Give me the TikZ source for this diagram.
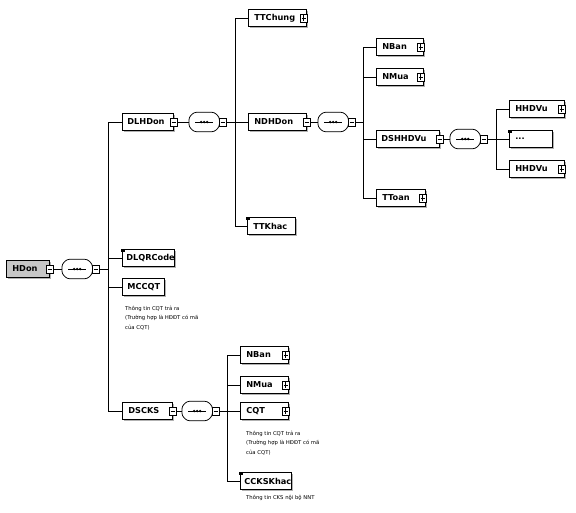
\documentclass[tikz,border=0pt]{standalone}
\usepackage{fontspec}
\setmainfont{DejaVu Sans}
\usetikzlibrary{shadows}
\tikzset{
  shd/.style={drop shadow={shadow xshift=1.2pt, shadow yshift=-1.8pt, fill=black, opacity=.3}},
  elem/.style={draw, fill=white, line width=0.75pt, minimum height=17pt, inner ysep=0pt, inner xsep=6pt,
    align=left, anchor=west, font=\fontsize{8.2}{9}\selectfont\bfseries, shd},
  root/.style={elem, fill=gray!45},
  seqbox/.style={minimum width=30pt, minimum height=19pt, inner sep=0pt, anchor=west},
  seqline/.style={draw=black, fill=white, line width=0.75pt, rounded corners=2.5pt},
  seqshadow/.style={fill=black, opacity=.3, rounded corners=2.5pt, shift={(1.2pt,-1.8pt)}},
  expm/.style={draw, fill=white, line width=0.6pt, minimum width=7pt, minimum height=8pt, inner sep=0pt,
    path picture={\draw[line width=0.7pt] ([xshift=1.3pt]path picture bounding box.west) -- ([xshift=-1.3pt]path picture bounding box.east);}},
  expp/.style={expm,
    path picture={\draw[line width=0.7pt] ([xshift=1.3pt]path picture bounding box.west) -- ([xshift=-1.3pt]path picture bounding box.east);
      \draw[line width=0.7pt] ([yshift=-1.3pt]path picture bounding box.north) -- ([yshift=1.3pt]path picture bounding box.south);}},
  wire/.style={line width=0.65pt},
  note/.style={anchor=north west, inner sep=0pt, align=left, font=\fontsize{5.3}{9.6}\selectfont},
  refmark/.style={fill=black, minimum size=3.2pt, inner sep=0pt}
}
\newcommand{\seqpath}[1]{([xshift=5pt]#1.north west) -- ([xshift=-5pt]#1.north east) -- ([yshift=-5pt]#1.north east) -- ([yshift=5pt]#1.south east) -- ([xshift=-5pt]#1.south east) -- ([xshift=5pt]#1.south west) -- ([yshift=5pt]#1.south west) -- ([yshift=-5pt]#1.north west) -- cycle}
\newcommand{\seqdraw}[1]{%
  \fill[seqshadow] \seqpath{#1};
  \path[seqline] \seqpath{#1};
  \draw[line width=1pt] ([xshift=6pt]#1.west) -- ([xshift=-6pt]#1.east);
  \foreach \d in {-3,0,3} \fill ([xshift=\d pt]#1.center) circle (1.3pt);}
\begin{document}
\begin{tikzpicture}[x=1pt,y=-1pt]
\useasboundingbox (0,0) rectangle (576,512);
% root
\node[root, text width=31pt] (hdon) at (6,269) {HDon};
\node[expm] (ehdon) at (hdon.east) {};
\node[seqbox] (s1) at (62,269) {};
\seqdraw{s1}
\node[expm, anchor=west] (x1) at ([xshift=-0.5pt]s1.east) {};
\coordinate (b1) at (108,269);
\draw[wire] (ehdon.east) -- (s1.west);
\draw[wire] (x1.east) -- (b1);
% level 1
\node[elem, text width=41pt, inner xsep=5pt] (dlhdon) at (122,122) {DLHDon};
\node[expm] (edlhdon) at (dlhdon.east) {};
\node[elem, text width=44pt, inner xsep=4pt] (dlqr) at (122,258) {DLQRCode};
\node[refmark] (mdlqr) at ([xshift=1pt,yshift=-1pt]dlqr.north west) {};
\node[elem, text width=32pt, inner xsep=5pt] (mccqt) at (122,287) {MCCQT};
\node[note] (nmccqt) at (125,305.5) {Thông tin CQT trả ra\\(Trường hợp là HĐĐT có mã\\của CQT)};
\node[elem, text width=38pt, inner xsep=6pt] (dscks) at (122,411) {DSCKS};
\node[expm] (edscks) at (dscks.east) {};
\foreach \c in {dlhdon,dlqr,mccqt,dscks} \draw[wire] (b1) |- (\c.west);
% DLHDon branch
\node[seqbox] (s2) at (189,122) {};
\seqdraw{s2}
\node[expm, anchor=west] (x2) at ([xshift=-0.5pt]s2.east) {};
\coordinate (b2) at (235,122);
\draw[wire] (edlhdon.east) -- (s2.west);
\draw[wire] (x2.east) -- (b2);
\node[elem, text width=46pt] (ttchung) at (248,18) {TTChung};
\node[expp] (ettchung) at ([xshift=-3pt]ttchung.east) {};
\node[elem, text width=46pt] (ndhdon) at (248,122) {NDHDon};
\node[expm] (endhdon) at (ndhdon.east) {};
\node[elem, text width=36pt] (ttkhac) at (247,226) {TTKhac};
\node[refmark] (mttkhac) at ([xshift=1pt,yshift=-1pt]ttkhac.north west) {};
\foreach \c in {ttchung,ndhdon,ttkhac} \draw[wire] (b2) |- (\c.west);
% NDHDon branch
\node[seqbox] (s3) at (318,122) {};
\seqdraw{s3}
\node[expm, anchor=west] (x3) at ([xshift=-0.5pt]s3.east) {};
\coordinate (b3) at (363,122);
\draw[wire] (endhdon.east) -- (s3.west);
\draw[wire] (x3.east) -- (b3);
\node[elem, text width=35pt] (nban) at (376,47) {NBan};
\node[expp] (enban) at ([xshift=-3pt]nban.east) {};
\node[elem, text width=35pt] (nmua) at (376,77) {NMua};
\node[expp] (enmua) at ([xshift=-3pt]nmua.east) {};
\node[elem, text width=53pt, inner xsep=5pt] (dshhdvu) at (376,139) {DSHHDVu};
\node[expm] (edshhdvu) at (dshhdvu.east) {};
\node[elem, text width=37pt] (ttoan) at (376,198) {TToan};
\node[expp] (ettoan) at ([xshift=-3pt]ttoan.east) {};
\foreach \c in {nban,nmua,dshhdvu,ttoan} \draw[wire] (b3) |- (\c.west);
% DSHHDVu branch
\node[seqbox] (s4) at (450,139) {};
\seqdraw{s4}
\node[expm, anchor=west] (x4) at ([xshift=-0.5pt]s4.east) {};
\coordinate (b4) at (496,139);
\draw[wire] (edshhdvu.east) -- (s4.west);
\draw[wire] (x4.east) -- (b4);
\node[elem, text width=43pt] (hh1) at (509,109) {HHDVu};
\node[expp] (ehh1) at ([xshift=-3pt]hh1.east) {};
\node[elem, text width=31pt] (hdots) at (509,139) {...};
\node[refmark] (mhdots) at ([xshift=1pt,yshift=-1pt]hdots.north west) {};
\node[elem, text width=43pt] (hh2) at (509,169) {HHDVu};
\node[expp] (ehh2) at ([xshift=-3pt]hh2.east) {};
\foreach \c in {hh1,hdots,hh2} \draw[wire] (b4) |- (\c.west);
% DSCKS branch
\node[seqbox] (s5) at (182,411) {};
\seqdraw{s5}
\node[expm, anchor=west] (x5) at ([xshift=-0.5pt]s5.east) {};
\coordinate (b5) at (227,411);
\draw[wire] (edscks.east) -- (s5.west);
\draw[wire] (x5.east) -- (b5);
\node[elem, text width=36pt] (nban2) at (240,355) {NBan};
\node[expp] (enban2) at ([xshift=-3pt]nban2.east) {};
\node[elem, text width=36pt] (nmua2) at (240,385) {NMua};
\node[expp] (enmua2) at ([xshift=-3pt]nmua2.east) {};
\node[elem, text width=36pt] (cqt) at (240,411) {CQT};
\node[expp] (ecqt) at ([xshift=-3pt]cqt.east) {};
\node[note] (ncqt) at (246,430.5) {Thông tin CQT trả ra\\(Trường hợp là HĐĐT có mã\\của CQT)};
\node[elem, text width=43pt, inner xsep=4pt] (ccks) at (240,481) {CCKSKhac};
\node[refmark] (mccks) at ([xshift=1pt,yshift=-1pt]ccks.north west) {};
\node[note] (nccks) at (246,495) {Thông tin CKS nội bộ NNT};
\foreach \c in {nban2,nmua2,cqt,ccks} \draw[wire] (b5) |- (\c.west);
\end{tikzpicture}
\end{document}
